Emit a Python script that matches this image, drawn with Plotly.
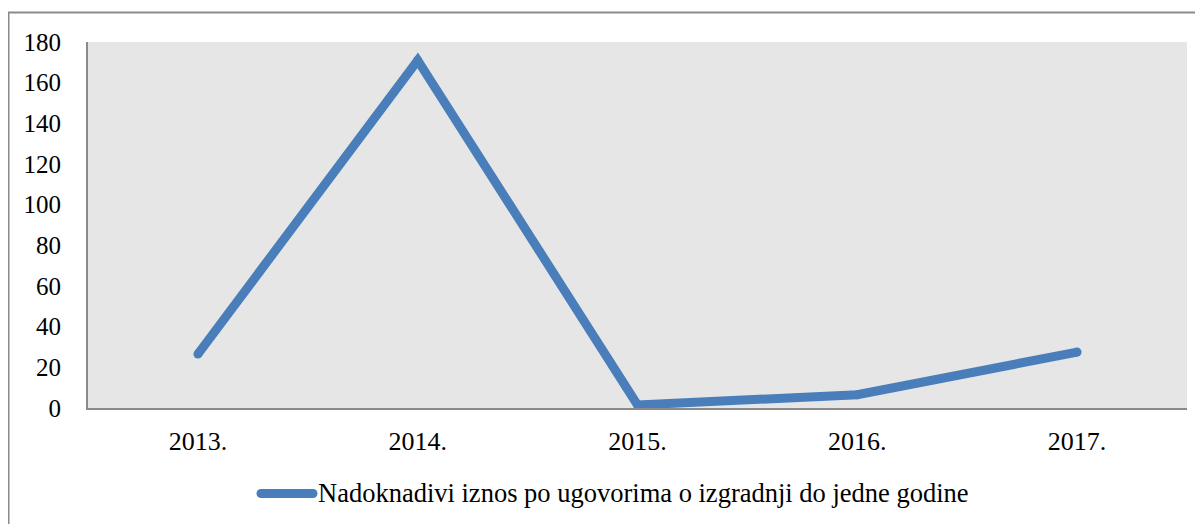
import plotly.graph_objects as go

years = ["2013.", "2014.", "2015.", "2016.", "2017."]
values = [26.5, 171, 1.5, 6.5, 27.5]
series_name = "Nadoknadivi iznos po ugovorima o izgradnji do jedne godine"
y_ticks = [0, 20, 40, 60, 80, 100, 120, 140, 160, 180]

BLUE = "#4a7ebb"
GREY = "#8a8a8a"
FONT = "Liberation Serif"

# the page puts the figure 8px in from the top-left corner
OFF = 8
W, H = 1203 - OFF, 524 - OFF
L, R, T, B = 80, 16, 34, 116
pw, ph = W - L - R, H - T - B


def px(x):
    # page x -> paper x
    return (x - OFF - L) / pw


def py(y):
    # page y -> paper y
    return (H - B - (y - OFF)) / ph


# markers of the same size round off the line ends and the joins
fig = go.Figure(go.Scatter(
    x=years, y=values, mode="lines+markers", name=series_name,
    line=dict(color=BLUE, width=9),
    marker=dict(color=BLUE, size=9, line=dict(width=0)),
    showlegend=False,
))

fig.update_layout(
    width=W, height=H,
    margin=dict(l=L, r=R, t=T, b=B),
    paper_bgcolor="white",
    plot_bgcolor="#e6e6e6",
    font=dict(family=FONT, size=25, color="black"),
    xaxis=dict(
        type="category", range=[-0.5, 4.5],
        showgrid=False, zeroline=False,
        showline=True, linecolor=GREY, linewidth=2,
        ticks="outside", ticklen=9, tickcolor="rgba(0,0,0,0)",
        tickfont=dict(family=FONT, size=26),
    ),
    yaxis=dict(
        range=[0, 180], tickvals=y_ticks,
        showgrid=False, zeroline=False,
        showline=True, linecolor=GREY, linewidth=2,
        ticks="outside", ticklen=20, tickcolor="rgba(0,0,0,0)",
        tickfont=dict(family=FONT, size=25),
    ),
    shapes=[
        # outer chart border
        dict(type="rect", xref="paper", yref="paper",
             x0=px(8.5), x1=px(1240), y0=py(12.5), y1=py(580),
             line=dict(color=GREY, width=2), fillcolor="rgba(0,0,0,0)",
             layer="below"),
        # legend sample line
        dict(type="line", xref="paper", yref="paper",
             x0=px(261), x1=px(313), y0=py(493.5), y1=py(493.5),
             line=dict(color=BLUE, width=9)),
        dict(type="circle", xref="paper", yref="paper",
             x0=px(256.5), x1=px(265.5), y0=py(489), y1=py(498),
             line=dict(width=0), fillcolor=BLUE),
        dict(type="circle", xref="paper", yref="paper",
             x0=px(308.5), x1=px(317.5), y0=py(489), y1=py(498),
             line=dict(width=0), fillcolor=BLUE),
    ],
    annotations=[
        dict(text=series_name, xref="paper", yref="paper",
             x=px(316), y=py(493), xanchor="left", yanchor="middle",
             showarrow=False, font=dict(family=FONT, size=26.5, color="black")),
    ],
)

fig.write_html("out.html")
